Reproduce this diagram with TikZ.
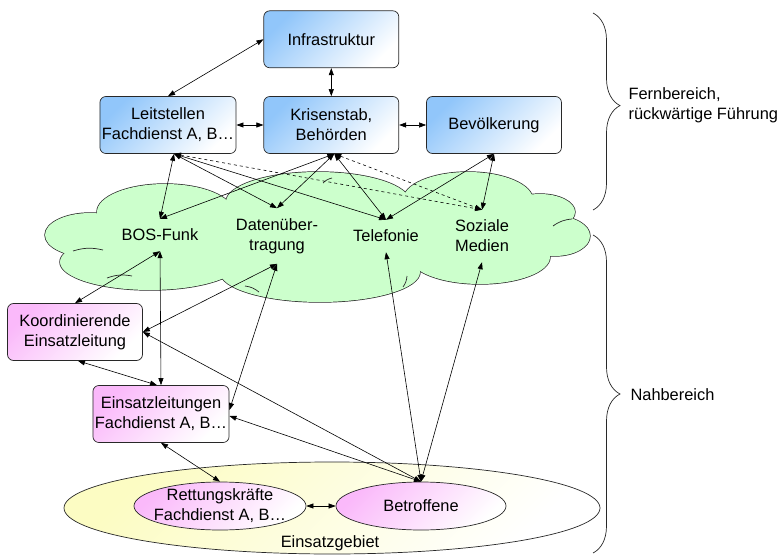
\documentclass[tikz,border=0pt]{standalone}
\usepackage{fontspec}
\setmainfont{Liberation Sans}
\usepackage{xcolor}
\usepackage{tikz}
\usetikzlibrary{positioning, arrows.meta, shapes.geometric, decorations.pathreplacing}

\definecolor{boxblau}{RGB}{145,198,250}
\definecolor{boxrosa}{RGB}{250,185,250}
\definecolor{wolke}{RGB}{204,255,204}
\definecolor{gebiet}{RGB}{252,252,195}
\definecolor{rand}{RGB}{40,40,40}

% Bögen der Wolke: x/y/rx/ry
\newcommand\wolkenteile{90/235/45/22, 165/212/68/28, 318/202/92/30, 468/200/65/28,
    540/212/35/18, 555/236/35/20, 480/257/70/27, 320/272/100/30, 150/262/90/28}

\begin{document}
\begin{tikzpicture}[
    x=1pt, y=-1pt,
    font=\fontsize{16.4}{20}\selectfont,
    node distance = 27pt,
    box/.style = {
        draw=rand, line width=0.7pt, rounded corners=6pt,
        minimum width=135pt, minimum height=57pt, align=center, inner sep=2pt,
        top color=#1, bottom color=white, shading angle=45
    },
    oval/.style = {
        draw=rand, line width=0.7pt, ellipse, inner sep=0pt,
        top color=#1, bottom color=white, shading angle=45
    },
    funk/.style = {align=center, inner sep=10pt},
    link/.style = {{Triangle[length=7pt,width=5pt]}-{Triangle[length=7pt,width=5pt]}, line width=0.6pt},
    klammer/.style = {draw=rand, line width=0.7pt, decorate, decoration={brace, amplitude=27pt, #1}}
  ]
    \useasboundingbox (0,0) rectangle (781,556);

    % Wolke
    \foreach \cx/\cy/\rx/\ry in \wolkenteile
        \draw[draw=rand, line width=1.4pt] (\cx,\cy) ellipse [x radius=\rx, y radius=\ry];
    \foreach \cx/\cy/\rx/\ry in \wolkenteile
        \fill[wolke] (\cx,\cy) ellipse [x radius=\rx, y radius=\ry];
    \fill[wolke] (320,236) ellipse [x radius=240, y radius=36];
    \foreach \xa/\ya/\xb/\yb in {73/251/103/250, 107/278/132/276, 245/286/259/292,
        407/276/403/287, 553/226/572/219, 323/183/332/178}
        \draw[draw=rand, line width=0.7pt] (\xa,\ya) to[bend left=15] (\xb,\yb);

    % Fernbereich
    \node[box=boxblau] (leit) at (168,125) {Leitstellen\\Fachdienst A, B…};
    \node[box=boxblau, right=of leit] (krisen) {Krisenstab,\\Behörden};
    \node[box=boxblau, right=of krisen] (bev) {Bevölkerung};
    \node[box=boxblau, above=28pt of krisen] (infra) {Infrastruktur};

    % Kommunikationswege
    \node[funk] (bos) at (160,235) {BOS-Funk};
    \node[funk] (daten) at (277,236) {Datenüber-\\tragung};
    \node[funk] (tele) at (386,236) {Telefonie};
    \node[funk] (sozial) at (482,236) {Soziale\\Medien};

    % Nahbereich
    \node[box=boxrosa] (koord) at (75,332) {Koordinierende\\Einsatzleitung};
    \node[box=boxrosa] (einsatz) at (161,414) {Einsatzleitungen\\Fachdienst A, B…};
    \node[oval=gebiet, minimum width=536pt, minimum height=92pt] (gebiet) at (332,508) {};
    \node (gebiet-text) at (330,543) {Einsatzgebiet};
    \node[oval=boxrosa, minimum width=172pt, minimum height=48pt,
        label={[align=center]center:Rettungskräfte\\Fachdienst A, B…}] (rett) at (220,506) {};
    \node[oval=boxrosa, minimum width=170pt, minimum height=48pt] (betr) at (421,506) {Betroffene};

    \coordinate (leit-unten) at ([xshift=6pt]leit.south);
    \coordinate (krisen-unten) at ([xshift=3pt]krisen.south);

    \draw[link] (infra.west) -- (leit.north);
    \draw[link] (infra) -- (krisen);
    \draw[link] (leit) -- (krisen);
    \draw[link] (krisen) -- (bev);
    \draw[link] (leit-unten) -- (bos.north);
    \draw[link] (leit-unten) -- (daten.north);
    \draw[link] (leit-unten) -- (tele.north);
    \draw[link, dashed] (leit-unten) -- (sozial.north);
    \draw[link] (krisen-unten) -- (bos.north);
    \draw[link] (krisen-unten) -- (daten.north);
    \draw[link] (krisen-unten) -- (tele.north);
    \draw[link, dashed] (krisen-unten) -- (sozial.north);
    \draw[link] (bev.south) -- (tele.north);
    \draw[link] (bev.south) -- (sozial.north);

    \draw[link] (bos.south) -- (koord.north);
    \draw[link] (bos.south) -- (einsatz.north);
    \draw[link] (daten.south) -- (koord.east);
    \draw[link] (daten.south) -- ([yshift=4pt]einsatz.east);
    \draw[link] ([xshift=3pt]koord.south) -- ([xshift=-4pt]einsatz.north);
    \draw[link] (betr.north) -- (koord.east);
    \draw[link] (betr.north) -- ([yshift=-2pt]einsatz.east);
    \draw[link] (betr.north) -- (tele.south);
    \draw[link] (betr.north) -- (sozial.south);
    \draw[link] (einsatz.south) -- (rett.north);
    \draw[link] (rett) -- (betr);

    % Bereiche
    \draw[klammer={aspect=0.47}] (593,13) -- (593,210);
    \draw[klammer={aspect=0.5}] (593,235) -- (593,553);
    \node[anchor=west, align=left] (fern) at (625,105) {Fernbereich,\\rückwärtige Führung};
    \node[anchor=west] (nah) at (627,395) {Nahbereich};
\end{tikzpicture}
\end{document}
